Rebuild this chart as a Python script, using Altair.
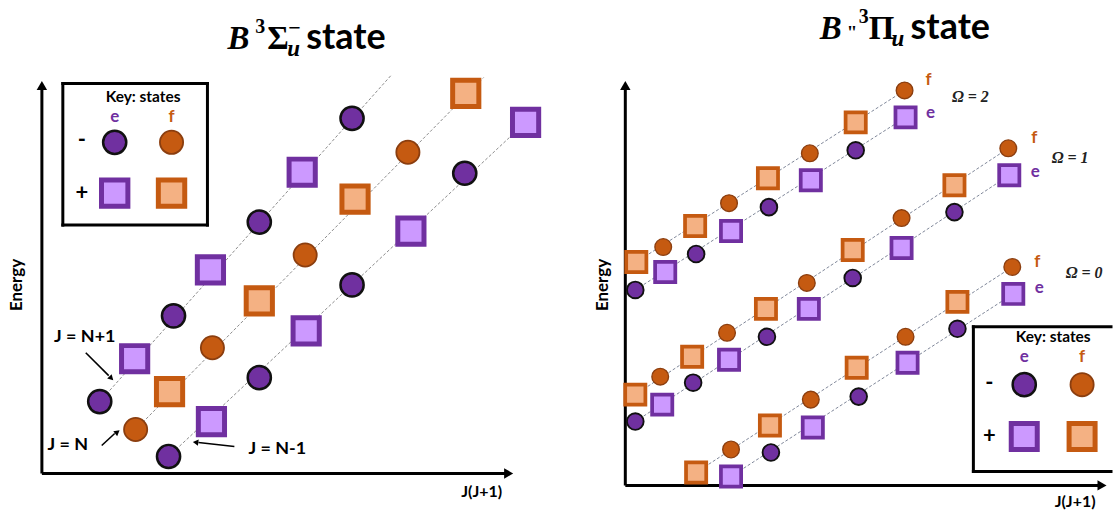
import altair as alt
import pandas as pd

# ---------------- DATA (arbitrary units: x = J(J+1), y = energy) ----------------
# Left panel: B 3Σu− state, three rotational progressions
L_NP1_x = [58, 93, 132, 169, 218, 261, 311]
L_NP1_y = [72, 115, 158, 204, 252, 302, 356]
L_NP1_k = ["e-", "e+", "e-", "e+", "e-", "e+", "e-"]
L_N_x = [94, 128, 171, 218, 264, 314, 367, 425]
L_N_y = [44, 82, 126, 173, 219, 275, 322, 381]
L_N_k = ["f-", "f+", "f-", "f+", "f-", "f+", "f-", "f+"]
L_NM1_x = [127, 170, 218, 265, 311, 370, 424, 485]
L_NM1_y = [17, 52, 96, 143, 189, 243, 301, 352]
L_NM1_k = ["e-", "e+", "e-", "e+", "e-", "e+", "e-", "e+"]
# dashed guide lines of the left panel (they run past the last level)
L_guide_x1 = [58, 94, 127]
L_guide_y1 = [72, 44, 17]
L_guide_x2 = [350, 443, 485]
L_guide_y2 = [399, 397, 352]

# Right panel: B" 3Πu state, Ω = 2, 1, 0 (f and e components)
R_O2f_x = [11, 38, 70, 104, 143, 185, 231, 280]
R_O2f_y = [224, 239, 260, 283, 308, 333, 364, 396]
R_O2f_k = ["f+", "f-", "f+", "f-", "f+", "f-", "f+", "f-"]
R_O2e_x = [10, 40, 71, 106, 144, 186, 231, 281]
R_O2e_y = [196, 214, 232, 255, 279, 306, 336, 369]
R_O2e_k = ["e-", "e+", "e-", "e+", "e-", "e+", "e-", "e+"]
R_O1f_x = [10, 35, 67, 102, 141, 182, 228, 277, 330, 384]
R_O1f_y = [91, 109, 129, 153, 177, 203, 236, 268, 301, 338]
R_O1f_k = ["f+", "f-", "f+", "f-", "f+", "f-", "f+", "f-", "f+", "f-"]
R_O1e_x = [10, 37, 68, 104, 142, 184, 228, 277, 330, 385]
R_O1e_y = [64, 81, 103, 126, 149, 177, 208, 238, 274, 311]
R_O1e_k = ["e-", "e+", "e-", "e+", "e-", "e+", "e-", "e+", "e-", "e+"]
R_O0f_x = [71, 106, 145, 186, 232, 281, 333, 388]
R_O0f_y = [13, 36, 60, 86, 118, 149, 184, 219]
R_O0f_k = ["f+", "f-", "f+", "f-", "f+", "f-", "f+", "f-"]
R_O0e_x = [106, 146, 188, 234, 283, 333, 389]
R_O0e_y = [9, 33, 58, 89, 123, 157, 192]
R_O0e_k = ["e+", "e-", "e+", "e-", "e+", "e-", "e+"]

R_omega_labels = ["Ω = 2", "Ω = 1", "Ω = 0"]
R_omega_x = [346, 446, 460]
R_omega_y = [389, 328, 213]
R_f_lab_x = [304, 410, 413]
R_f_lab_y = [406, 348, 224]
R_e_lab_x = [306, 411, 415]
R_e_lab_y = [373, 314, 198]

# ---------------- STYLE ----------------
PURPLE = "#7030A0"
ORANGE = "#C55A11"
STYLE = {
    "e-": dict(shape="circle", fill=PURPLE, stroke="#111111", sw=2.5),
    "f-": dict(shape="circle", fill=ORANGE, stroke="#8B3E0F", sw=1.8),
    "e+": dict(shape="square", fill="#CC99FF", stroke=PURPLE, sw=5),
    "f+": dict(shape="square", fill="#F4B183", stroke=ORANGE, sw=5),
}
SANS = "Lato"
SERIF = "Liberation Serif"
W, H = 557, 514
L_XD, L_YD = [-42, 515], [-40, 474]
R_XD, R_YD = [-70, 487], [-28, 486]


def enc(xd, yd, **extra):
    d = dict(
        x=alt.X("x:Q", scale=alt.Scale(domain=xd, nice=False, zero=False), axis=None),
        y=alt.Y("y:Q", scale=alt.Scale(domain=yd, nice=False, zero=False), axis=None),
    )
    d.update(extra)
    return d


def marker_layers(df, xd, yd, csize, ssize, swscale=1.0):
    out = []
    for k, st in STYLE.items():
        size = csize if st["shape"] == "circle" else ssize
        out.append(
            alt.Chart(df)
            .transform_filter(alt.datum.kind == k)
            .mark_point(shape=st["shape"], filled=True, fill=st["fill"], stroke=st["stroke"],
                        strokeWidth=st["sw"] * swscale, size=size, opacity=1)
            .encode(**enc(xd, yd))
        )
    return out


def text_layer(xs, ys, texts, xd, yd, **kw):
    df = pd.DataFrame({"x": xs, "y": ys, "t": texts})
    return alt.Chart(df).mark_text(**kw).encode(**enc(xd, yd, text="t:N"))


def rule_layer(x1, y1, x2, y2, xd, yd, **kw):
    df = pd.DataFrame({"x": x1, "y": y1, "x2": x2, "y2": y2})
    return alt.Chart(df).mark_rule(**kw).encode(**enc(xd, yd, x2="x2:Q", y2="y2:Q"))


def tri_layer(xs, ys, shape, xd, yd, size=110, angle=0):
    df = pd.DataFrame({"x": xs, "y": ys})
    return alt.Chart(df).mark_point(shape=shape, filled=True, color="black", opacity=1,
                                    size=size, angle=angle).encode(**enc(xd, yd))


def box_layers(x1, x2, y1, y2, xd, yd, open_right=False):
    df = pd.DataFrame({"x": [x1], "x2": [x2], "y": [y1], "y2": [y2]})
    out = [alt.Chart(df).mark_rect(fill="white").encode(**enc(xd, yd, x2="x2:Q", y2="y2:Q"))]
    xs1 = [x1, x1, x1] + ([] if open_right else [x2])
    ys1 = [y1, y2, y1] + ([] if open_right else [y1])
    xs2 = [x2, x2, x1] + ([] if open_right else [x2])
    ys2 = [y1, y2, y2] + ([] if open_right else [y2])
    out.append(rule_layer(xs1, ys1, xs2, ys2, xd, yd, color="black", strokeWidth=3, strokeCap="square"))
    return out


def axes_layers(xd, yd, ytop, xright):
    return [
        rule_layer([0], [0], [0], [ytop - 6], xd, yd, color="black", strokeWidth=3),
        rule_layer([0], [0], [xright - 6], [0], xd, yd, color="black", strokeWidth=3),
        tri_layer([0], [ytop - 5], "triangle-up", xd, yd),
        tri_layer([xright - 5], [0], "triangle-right", xd, yd),
    ]


def legend_layers(bx1, bx2, by1, by2, cx1, cx2, ytitle, yef, yminus, yplus, xsign, xd, yd, csize, ssize,
                  open_right=False):
    layers = box_layers(bx1, bx2, by1, by2, xd, yd, open_right)
    layers.append(text_layer([(cx1 + cx2) / 2], [ytitle], ["Key: states"], xd, yd,
                             font=SANS, fontSize=15.5, fontWeight="bold", color="black", baseline="middle"))
    layers.append(text_layer([cx1], [yef], ["e"], xd, yd, font=SANS, fontSize=17, fontWeight="bold",
                             color=PURPLE, baseline="middle"))
    layers.append(text_layer([cx2], [yef], ["f"], xd, yd, font=SANS, fontSize=17, fontWeight="bold",
                             color=ORANGE, baseline="middle"))
    layers.append(text_layer([xsign, xsign], [yminus + 2, yplus], ["-", "+"], xd, yd, font=SANS,
                             fontSize=22, fontWeight="bold", color="black", baseline="middle"))
    df = pd.DataFrame({"x": [cx1, cx2, cx1, cx2], "y": [yminus, yminus, yplus, yplus],
                       "kind": ["e-", "f-", "e+", "f+"]})
    layers += marker_layers(df, xd, yd, csize, ssize)
    return layers


# ---------------- LEFT PANEL ----------------
left_df = pd.DataFrame({
    "x": L_NP1_x + L_N_x + L_NM1_x,
    "y": L_NP1_y + L_N_y + L_NM1_y,
    "kind": L_NP1_k + L_N_k + L_NM1_k,
})
xd, yd = L_XD, L_YD
left_layers = []
left_layers += legend_layers(21, 166, 391, 249, 73, 130, 377, 357, 332, 281, 40, xd, yd, 540, 700)
left_layers.append(rule_layer(L_guide_x1, L_guide_y1, L_guide_x2, L_guide_y2, xd, yd,
                              color="#8c8c8c", strokeWidth=1, strokeDash=[3, 2]))
left_layers += axes_layers(xd, yd, 394, 473)
left_layers += marker_layers(left_df, xd, yd, 540, 690)
# annotations
ann = dict(font=SANS, fontSize=18, fontWeight="bold", color="black", baseline="middle")
left_layers.append(text_layer([43, 26, 236], [137, 28, 24], ["J = N+1", "J = N", "J = N-1"], xd, yd, **ann))
left_layers.append(rule_layer([44, 60, 193], [121, 28, 27], [67, 73, 157], [98, 40, 31], xd, yd,
                              color="black", strokeWidth=1.6))
left_layers.append(tri_layer([69], [96], "triangle", xd, yd, size=40, angle=135))
left_layers.append(tri_layer([75], [41], "triangle", xd, yd, size=40, angle=52))
left_layers.append(tri_layer([155], [31], "triangle", xd, yd, size=40, angle=277))
# axis labels
left_layers.append(text_layer([-25], [189], ["Energy"], xd, yd, font=SANS, fontSize=17, fontWeight="bold",
                              color="black", angle=270, baseline="middle"))
left_layers.append(text_layer([441], [-19], ["J(J+1)"], xd, yd, font=SANS, fontSize=16, fontWeight="bold",
                              color="black", baseline="middle"))
# title  B 3Σu− state
tb = dict(color="black", align="left", baseline="alphabetic")
left_layers.append(text_layer([186], [426], ["B"], xd, yd, font=SERIF, fontSize=33, fontWeight="bold",
                              fontStyle="italic", **tb))
left_layers.append(text_layer([214], [442], ["3"], xd, yd, font=SERIF, fontSize=20, fontWeight="bold", **tb))
left_layers.append(text_layer([226], [426], ["Σ"], xd, yd, font=SERIF, fontSize=33, fontWeight="bold", **tb))
left_layers.append(text_layer([246], [419], ["u"], xd, yd, font=SERIF, fontSize=23, fontWeight="bold",
                              fontStyle="italic", **tb))
left_layers.append(text_layer([247], [440], ["−"], xd, yd, font=SERIF, fontSize=22, fontWeight="bold", **tb))
left_layers.append(text_layer([265], [426], ["state"], xd, yd, font=SANS, fontSize=36, fontWeight="bold", **tb))

left = alt.layer(*left_layers).properties(width=W, height=H)

# ---------------- RIGHT PANEL ----------------
xd, yd = R_XD, R_YD
right_lines = [(R_O2f_x, R_O2f_y, R_O2f_k), (R_O2e_x, R_O2e_y, R_O2e_k),
               (R_O1f_x, R_O1f_y, R_O1f_k), (R_O1e_x, R_O1e_y, R_O1e_k),
               (R_O0f_x, R_O0f_y, R_O0f_k), (R_O0e_x, R_O0e_y, R_O0e_k)]
rx, ry, rk = [], [], []
for a, b, c in right_lines:
    rx += a
    ry += b
    rk += c
right_df = pd.DataFrame({"x": rx, "y": ry, "kind": rk})
right_layers = []
right_layers += legend_layers(349, 487, 159, 14, 400, 458, 149, 129, 101, 49, 365, xd, yd, 540, 680,
                              open_right=True)
right_layers.append(rule_layer([l[0][0] for l in right_lines], [l[1][0] for l in right_lines],
                               [l[0][-1] for l in right_lines], [l[1][-1] for l in right_lines], xd, yd,
                               color="#7f8799", strokeWidth=1, strokeDash=[3, 2]))
right_layers += axes_layers(xd, yd, 406, 483)
right_layers += marker_layers(right_df, xd, yd, 280, 410, swscale=0.75)
right_layers.append(text_layer(R_f_lab_x, R_f_lab_y, ["f"] * 3, xd, yd, font=SANS, fontSize=17,
                               fontWeight="bold", color=ORANGE, baseline="middle"))
right_layers.append(text_layer(R_e_lab_x, R_e_lab_y, ["e"] * 3, xd, yd, font=SANS, fontSize=17,
                               fontWeight="bold", color=PURPLE, baseline="middle"))
right_layers.append(text_layer(R_omega_x, R_omega_y, R_omega_labels, xd, yd, font=SERIF, fontSize=16,
                               fontWeight="bold", fontStyle="italic", color="#222222", baseline="middle"))
right_layers.append(text_layer([-22], [201], ["Energy"], xd, yd, font=SANS, fontSize=17, fontWeight="bold",
                               color="black", angle=270, baseline="middle"))
right_layers.append(text_layer([451], [-17], ["J(J+1)"], xd, yd, font=SANS, fontSize=16, fontWeight="bold",
                               color="black", baseline="middle"))
# title  B" 3Πu state
right_layers.append(text_layer([195], [448], ["B"], xd, yd, font=SERIF, fontSize=33, fontWeight="bold",
                               fontStyle="italic", **tb))
right_layers.append(text_layer([222], [448], ["\""], xd, yd, font=SERIF, fontSize=19, fontWeight="bold", **tb))
right_layers.append(text_layer([234], [464], ["3"], xd, yd, font=SERIF, fontSize=20, fontWeight="bold", **tb))
right_layers.append(text_layer([244], [448], ["Π"], xd, yd, font=SERIF, fontSize=33, fontWeight="bold", **tb))
right_layers.append(text_layer([267], [441], ["u"], xd, yd, font=SERIF, fontSize=23, fontWeight="bold",
                               fontStyle="italic", **tb))
right_layers.append(text_layer([286], [448], ["state"], xd, yd, font=SANS, fontSize=36, fontWeight="bold", **tb))

right = alt.layer(*right_layers).properties(width=W, height=H)

chart = (
    alt.hconcat(left, right, spacing=0)
    .properties(padding=0, background="white")
    .configure_view(stroke=None)
)
chart.save("out.html", embed_options={"renderer": "svg", "actions": False})
